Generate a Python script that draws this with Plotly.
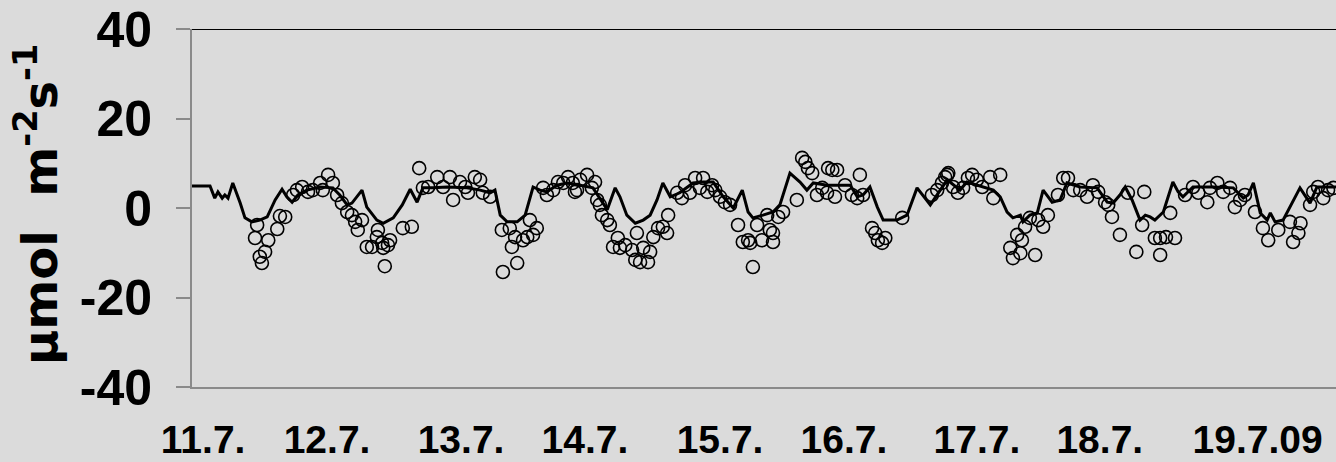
import plotly.graph_objects as go

# Hours since 11.7.2009 00:00
line_hours = [0, 3.4, 4.3, 4.9, 5.7, 6.2, 6.8, 7.7, 9.1, 10.0, 11.3, 12.8, 14.2, 15.7, 17.0, 17.9, 18.9, 20.0,
              21.7, 24.2, 26.6, 27.9, 29.3, 30.2, 32.1, 33.0, 34.9, 36.1, 38.0, 39.7, 41.2, 42.5, 43.6, 45.5,
              48.2, 51.9, 54.4, 56.3, 57.2, 58.2, 59.5, 61.4, 62.9, 64.4, 65.7, 67.0, 68.9, 70.8, 73.3, 75.7,
              77.6, 78.4, 79.9, 80.8, 82.1, 83.7, 85.2, 86.5, 87.8, 88.9, 90.3, 92.1, 94.6, 96.5, 98.4, 100.3,
              102.2, 103.9, 105.0, 105.9, 107.8, 109.7, 111.0, 112.9, 114.8, 116.1, 117.3, 119.9, 124.3, 125.6,
              126.7, 128.0, 129.4, 130.5, 133.1, 135.0, 136.9, 139.4, 142.6, 145.0, 146.3, 151.3, 152.6, 153.9,
              155.0, 156.4, 156.9, 158.2, 159.6, 160.7, 162.4, 163.9, 165.2, 167.7, 170.9, 172.8, 173.9, 175.2,
              176.2, 177.5, 179.0, 180.0, 180.9, 181.8, 183.4, 185.2, 186.2, 187.1, 189.0, 192.8, 196.6, 198.5,
              199.4, 200.4, 201.7, 203.0, 203.6, 204.5, 206.0, 209.2, 211.1, 212.4, 216.0]
line_flux = [4.9, 4.9, 2.2, 3.6, 2.2, 2.9, 2.2, 5.6, 1.1, -2.2, -3.1, -2.7, -2.0, 1.8, 4.2, 2.5, 1.3, 2.9,
             4.0, 4.7, 4.5, 2.9, 0.7, 1.1, 4.0, 0.2, -2.7, -3.4, -2.2, 0.7, 4.2, 1.3, 4.5, 4.5,
             4.7, 4.5, 4.0, 3.4, 4.0, -1.6, -3.1, -3.1, -1.6, 4.7, 4.0, 3.6, 5.1, 5.6, 5.1, 4.5,
             1.1, -0.4, 4.5, 2.5, -1.6, -3.4, -2.7, -1.6, 1.8, 5.6, 2.5, 3.4, 5.6, 5.8, 5.8, 2.5,
             0.0, 4.0, -0.9, -2.2, -1.6, -0.9, 0.7, 7.8, 5.8, 4.0, 5.6, 5.1, 5.1, 2.5,
             2.9, 4.7, 0.2, -2.7, -2.7, -1.6, 4.5, 0.7, 6.3, 4.0, 5.8, 4.0, 2.5, -0.9,
             -2.2, -1.6, -3.1, -1.6, -1.1, 4.0, 1.3, 1.8, 5.6, 4.7, 4.5, 1.3, 1.1, 2.9,
             4.7, 1.8, -2.7, -1.6, -2.0, -2.7, -0.9, 5.8, 3.6, 2.5, 4.7, 4.7, 4.5, 2.2,
             2.9, 5.6, -1.1, -2.7, -1.1, -3.1, -2.7, 4.5, 1.1, 4.7, 4.7]

obs_hours = [12.3, 11.9, 14.4, 16.1, 16.6, 17.6, 13.8, 12.8, 13.2,
             19.1, 19.8, 20.8, 21.9, 22.8, 24.2, 24.7, 25.7, 26.6, 27.4, 28.3, 29.3, 30.2, 30.8, 31.3, 32.1,
             33.0, 34.0, 34.9, 35.1, 35.9, 36.1, 37.0, 37.4, 36.4, 39.8, 41.5,
             42.9, 43.6, 44.6, 46.3, 47.4, 48.7, 49.3, 50.6, 51.6, 52.1, 53.4, 54.4, 54.9, 56.3,
             58.5, 60.0, 60.4, 61.0, 62.5, 63.3, 63.8, 64.4, 65.1, 58.7, 61.4,
             66.3, 67.0, 68.2, 69.1, 70.1, 71.0, 71.9, 72.7, 72.3, 73.3, 74.6, 75.5, 76.1, 76.5, 77.0, 77.4,
             78.4, 78.9, 79.5, 80.4, 80.8, 81.8, 83.1, 83.7, 84.6, 84.0, 85.2, 86.1, 86.5, 87.1, 88.0, 88.9,
             89.7, 89.9,
             91.6, 92.5, 93.1, 94.0, 95.0, 95.9, 96.5, 97.3, 98.2, 98.8, 99.7, 100.6, 101.6,
             103.1, 104.0, 105.0, 105.4, 106.7, 107.6, 108.6, 109.1, 109.7, 109.7, 110.7, 111.6, 105.9,
             114.2, 115.2, 115.8, 116.3, 117.1, 118.0, 119.0, 119.9, 120.1, 120.9, 121.8, 121.4, 123.3,
             124.6, 125.6, 126.1, 126.7,
             128.4, 129.0, 129.5, 130.3, 130.9, 134.1,
             139.7, 140.7, 141.6, 142.6, 143.7, 142.2, 142.8, 144.6, 145.6, 146.5, 147.3, 148.2, 149.2,
             150.7, 151.3, 152.6,
             154.5, 155.0, 155.8, 156.4, 156.7, 157.3, 158.2, 159.2, 159.8, 160.7, 161.6,
             163.5, 164.5, 165.4, 166.4, 167.7, 169.0, 170.1, 171.1, 172.4, 173.0, 173.7,
             175.2, 176.7, 178.3, 179.4, 179.8, 181.8, 182.8, 182.8, 183.9, 185.6, 184.7,
             187.5, 189.0, 190.0, 191.7, 192.2, 193.6, 194.7, 196.0, 196.9, 197.9, 198.8,
             200.7, 202.2, 203.2, 205.1, 207.3, 207.9, 208.9, 209.3,
             211.1, 211.7, 212.6, 213.6, 214.5, 215.5]
obs_flux = [-3.8, -6.7, -7.2, -4.7, -1.8, -2.0, -9.8, -10.9, -12.3,
            2.9, 4.0, 4.7, 3.6, 4.0, 5.6, 4.0, 7.4, 5.6, 2.9, 1.1, -0.9, -1.6, -3.1, -4.9, -2.7,
            -8.7, -8.7, -6.5, -4.9, -7.8, -8.9, -8.3, -7.2, -13.0, -4.5, -4.2,
            8.9, 4.5, 4.7, 6.9, 4.7, 6.9, 1.8, 5.8, 4.7, 3.4, 6.9, 6.3, 3.4, 2.5,
            -4.9, -4.5, -8.7, -6.5, -7.2, -6.5, -2.7, -6.0, -4.5, -14.3, -12.3,
            4.5, 2.9, 4.0, 5.8, 5.6, 6.9, 5.6, 4.0, 3.6, 6.3, 7.4, 4.5, 5.8, 1.8, 0.7, -1.6,
            -2.7, -3.8, -8.7, -6.7, -8.9, -8.3, -9.4, -11.6, -12.1, -5.6, -8.9, -12.1, -9.8, -6.5, -4.5, -4.2,
            -5.6, -1.6,
            3.4, 2.2, 5.1, 3.4, 6.7, 4.5, 6.7, 3.6, 5.1, 4.0, 2.5, 1.3, 0.7,
            -3.8, -7.6, -7.2, -7.8, -3.8, -7.2, -1.6, -4.9, -5.6, -7.6, -2.0, -0.9, -13.2,
            1.8, 11.2, 10.3, 8.9, 7.8, 2.9, 4.5, 3.4, 8.9, 8.5, 8.5, 2.5, 5.1,
            2.9, 2.2, 7.4, 2.9,
            -4.5, -5.6, -7.2, -7.8, -6.7, -2.2,
            2.9, 4.0, 5.6, 7.4, 4.7, 6.9, 7.8, 3.4, 4.5, 6.7, 7.4, 6.3, 4.7,
            6.9, 2.2, 7.4,
            -8.9, -11.2, -6.0, -10.1, -7.2, -4.2, -2.2, -10.5, -2.7, -4.2, -1.6,
            2.9, 6.7, 6.7, 4.0, 4.0, 2.5, 5.1, 3.6, 1.3, 0.7, -2.0,
            -6.0, 3.4, -9.8, -3.8, 3.6, -6.7, -6.7, -10.5, -6.5, -6.7, -1.1,
            2.9, 4.7, 3.4, 1.3, 4.5, 5.6, 3.6, 4.5, 0.2, 1.8, 2.9,
            -0.9, -4.5, -7.2, -4.9, -3.1, -7.6, -5.6, -3.4,
            0.7, 3.6, 4.7, 2.2, 4.0, 4.5]

tick_hours = [2.1, 25.5, 50.8, 74.2, 99.7, 123.1, 148.2, 171.4, 201.2]
tick_labels = ["11.7.", "12.7.", "13.7.", "14.7.", "15.7.", "16.7.", "17.7.", "18.7.", "19.7.09"]
y_ticks = [-40, -20, 0, 20, 40]

BG = "#dbdbdb"
AXIS_GRAY = "#8a8a8a"

fig = go.Figure()
fig.add_trace(go.Scatter(x=obs_hours, y=obs_flux, mode="markers",
                         marker=dict(symbol="circle-open", size=13, color="black",
                                     line=dict(width=1.6, color="black")),
                         showlegend=False, hoverinfo="skip"))
fig.add_trace(go.Scatter(x=line_hours, y=line_flux, mode="lines",
                         line=dict(color="black", width=3), showlegend=False, hoverinfo="skip"))

fig.update_layout(
    width=1336, height=462,
    margin=dict(l=192, r=0, t=29, b=75, pad=0),
    paper_bgcolor=BG, plot_bgcolor=BG,
    showlegend=False,
    xaxis=dict(range=[0, 216], showgrid=False, zeroline=False, automargin=False,
               showline=True, linecolor=AXIS_GRAY, linewidth=2,
               tickmode="array", tickvals=tick_hours, ticktext=tick_labels,
               ticks="", ticklabelstandoff=17,
               tickfont=dict(family="Liberation Sans, Arial, sans-serif", size=39, color="black",
                             weight="bold")),
    yaxis=dict(range=[-40, 40], showgrid=False, zeroline=False, automargin=False,
               showline=True, linecolor=AXIS_GRAY, linewidth=2,
               tickmode="array", tickvals=y_ticks, ticktext=[str(v) for v in y_ticks],
               ticks="outside", ticklen=14, tickwidth=2, tickcolor=AXIS_GRAY,
               ticklabelstandoff=14,
               tickfont=dict(family="Liberation Sans Narrow, Liberation Sans, Arial, sans-serif",
                             size=50, color="black", weight="bold")),
    shapes=[dict(type="line", xref="paper", yref="y", x0=0, x1=1, y0=40, y1=40,
                 line=dict(color="black", width=2))],
    annotations=[dict(text="μmol\u00a0 m<sup>-2</sup>s<sup>-1</sup>", textangle=-90,
                      xref="paper", yref="paper", x=-0.135, y=0.51,
                      xanchor="center", yanchor="middle", showarrow=False,
                      font=dict(family="DejaVu Sans, sans-serif", size=48, color="black", weight="bold"))],
)

fig.write_html("out.html")
